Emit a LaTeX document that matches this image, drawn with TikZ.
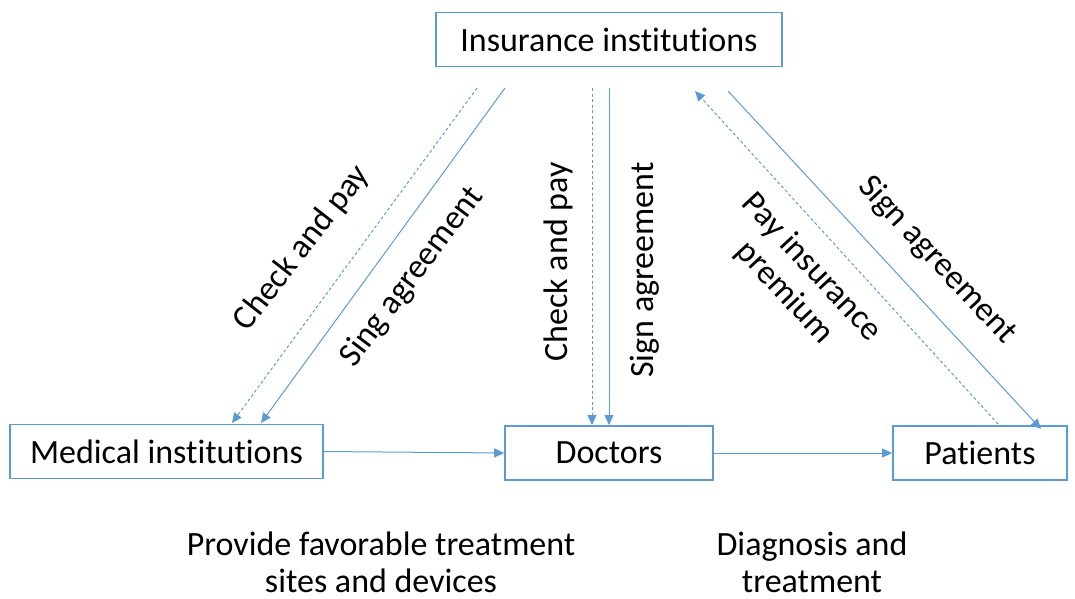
\documentclass[tikz,border=0pt]{standalone}
\usepackage{fontspec}
\setmainfont{Carlito}[Ligatures=NoCommon]
\usetikzlibrary{arrows.meta}
\definecolor{boxblue}{RGB}{91,155,213}
\begin{document}
\begin{tikzpicture}[x=1pt,y=-1pt,
  box/.style={draw=boxblue,line width=1.6pt,minimum height=54pt,inner sep=0pt,font=\fontsize{34}{40}\selectfont},
  link/.style={draw=boxblue,line width=1pt,-{Triangle[length=10pt,width=9pt]}},
  dlink/.style={link,dash pattern=on 3pt off 2.5pt},
  lbl/.style={font=\fontsize{34}{37}\selectfont,align=center,inner sep=0pt}]
\useasboundingbox (0,0) rectangle (1075,598);
% boxes
\node[box,minimum width=346pt] (ins) at (609,39.5) {Insurance institutions};
\node[box,minimum width=313pt] (med) at (166.5,451.5) {Medical institutions};
\node[box,minimum width=208pt] (doc) at (609,453) {Doctors};
\node[box,minimum width=174pt] (pat) at (980,453) {Patients};
% end points of the slanted and vertical links
\coordinate (a1) at (477,88);  \coordinate (b1) at (232,423);
\coordinate (a2) at (505,88);  \coordinate (b2) at (261,423);
\coordinate (a3) at (592,88);  \coordinate (b3) at (592,425);
\coordinate (a4) at (609,88);  \coordinate (b4) at (609,425);
\coordinate (a5) at (695,91);  \coordinate (b5) at (998,424);
\coordinate (a6) at (728,91);  \coordinate (b6) at (1041,429);
\draw[dlink] (a1) -- (b1);
\draw[link] (a2) -- (b2);
\draw[dlink] (a3) -- (b3);
\draw[link] (a4) -- (b4);
\draw[dlink] (b5) -- (a5);
\draw[link] (a6) -- (b6);
\draw[link] (med.east) -- (doc.west);
\draw[link] (doc.east) -- (pat.west);
% labels
\node[lbl,rotate=52] (l1) at (302,248) {Check and pay};
\node[lbl,rotate=53] (l2) at (412,277) {Sing agreement};
\node[lbl,rotate=90] (l3) at (558,262) {Check and pay};
\node[lbl,rotate=90] (l4) at (645,270) {Sign agreement};
\node[lbl,rotate=-47] (l5) at (798,280) {Pay insurance\\premium};
\node[lbl,rotate=-47] (l6) at (937,260) {Sign agreement};
\node[lbl] (l7) at (381,562) {Provide favorable treatment\\sites and devices};
\node[lbl] (l8) at (812,562) {Diagnosis and\\treatment};
\end{tikzpicture}
\end{document}
